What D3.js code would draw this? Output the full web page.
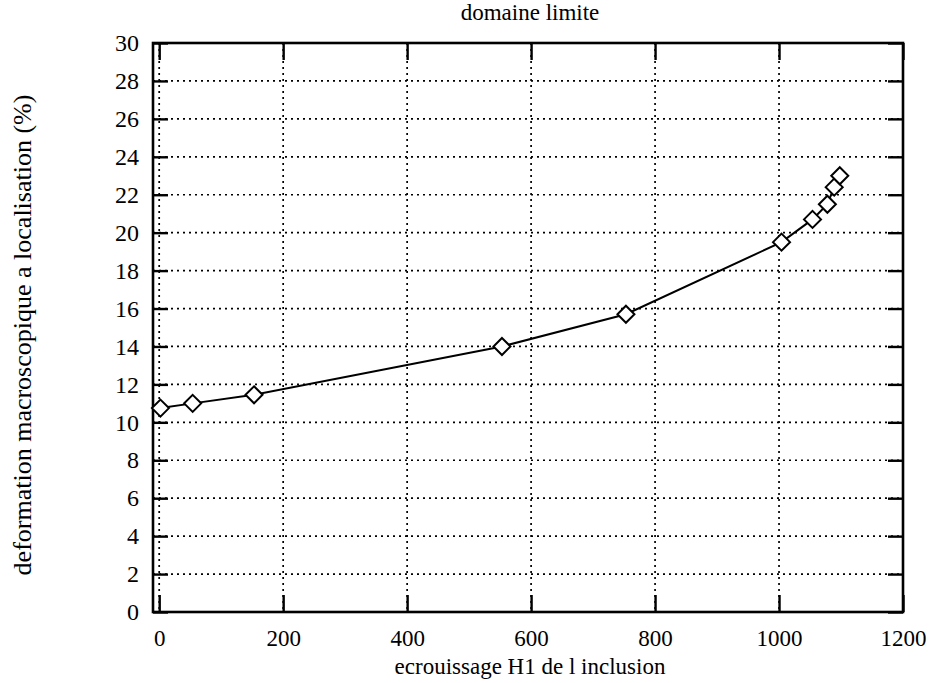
<!DOCTYPE html>
<html>
<head>
<meta charset="utf-8">
<script src="https://cdn.jsdelivr.net/npm/d3@7"></script>
<style>
  html, body { margin: 0; padding: 0; background: #fff; }
  svg { display: block; font-family: "Liberation Serif", "DejaVu Serif", serif; }
</style>
</head>
<body>
<div id="chart"></div>
<script>
// data
const hardening = [2, 54, 153, 553, 753, 1004, 1054, 1078, 1089, 1098];
const strainAtLocalisation = [10.75, 11.0, 11.45, 14.0, 15.7, 19.5, 20.7, 21.5, 22.4, 23.0];
const xTicks = [0, 200, 400, 600, 800, 1000, 1200];
const yTicks = [0, 2, 4, 6, 8, 10, 12, 14, 16, 18, 20, 22, 24, 26, 28, 30];

const titleText = "domaine limite";
const xLabel = "ecrouissage H1 de l inclusion";
const yLabel = "deformation macroscopique a localisation (%)";

const width = 934, height = 683;
const margin = {top: 43, right: 31, bottom: 71, left: 153};
const innerW = width - margin.left - margin.right;
const innerH = height - margin.top - margin.bottom;

const svg = d3.select('#chart').append('svg')
    .attr('width', width)
    .attr('height', height);

const g = svg.append('g')
    .attr('transform', `translate(${margin.left},${margin.top})`);

const x = d3.scaleLinear().domain([-10, 1200]).range([0, innerW]);
const y = d3.scaleLinear().domain([0, 30]).range([innerH, 0]);

// dotted grid
g.append('g').selectAll('line')
    .data(xTicks.filter(d => d < 1200))
    .join('line')
    .attr('x1', d => x(d)).attr('x2', d => x(d))
    .attr('y1', 0).attr('y2', innerH)
    .attr('stroke', '#000')
    .attr('stroke-width', 1.7)
    .attr('stroke-dasharray', '2,4');

g.append('g').selectAll('line')
    .data(yTicks.filter(d => d > 0 && d < 30))
    .join('line')
    .attr('x1', 0).attr('x2', innerW)
    .attr('y1', d => y(d)).attr('y2', d => y(d))
    .attr('stroke', '#000')
    .attr('stroke-width', 1.7)
    .attr('stroke-dasharray', '2,4');

// axes with inward ticks
const axisStyle = (sel, size) => {
    sel.select('.domain').remove();
    sel.selectAll('.tick line').attr('stroke', '#000').attr('stroke-width', 2.4);
    sel.selectAll('.tick text')
        .attr('fill', '#000')
        .style('font-size', size + 'px')
        .style('font-family', '"Liberation Serif", serif');
};

g.append('g')
    .attr('transform', `translate(0,${innerH})`)
    .call(d3.axisBottom(x).tickValues(xTicks).tickFormat(d3.format('d'))
        .tickSizeInner(-17).tickSizeOuter(0).tickPadding(18))
    .call(axisStyle, 23);

g.append('g')
    .call(d3.axisTop(x).tickValues(xTicks).tickFormat('')
        .tickSizeInner(-17).tickSizeOuter(0))
    .call(axisStyle, 23);

g.append('g')
    .call(d3.axisLeft(y).tickValues(yTicks).tickFormat(d3.format('d'))
        .tickSizeInner(-15).tickSizeOuter(0).tickPadding(14))
    .call(axisStyle, 24);

g.append('g')
    .attr('transform', `translate(${innerW},0)`)
    .call(d3.axisRight(y).tickValues(yTicks).tickFormat('')
        .tickSizeInner(-15).tickSizeOuter(0))
    .call(axisStyle, 24);

// frame
g.append('rect')
    .attr('x', 0).attr('y', 0)
    .attr('width', innerW).attr('height', innerH)
    .attr('fill', 'none')
    .attr('stroke', '#000')
    .attr('stroke-width', 2.6);

// curve
const pts = hardening.map((h, i) => [h, strainAtLocalisation[i]]);
g.append('path')
    .datum(pts)
    .attr('fill', 'none')
    .attr('stroke', '#000')
    .attr('stroke-width', 2)
    .attr('d', d3.line().x(d => x(d[0])).y(d => y(d[1])));

// diamond markers
g.append('g').selectAll('path')
    .data(pts)
    .join('path')
    .attr('transform', d => `translate(${x(d[0])},${y(d[1])})`)
    .attr('d', 'M0,-8.5L8.5,0L0,8.5L-8.5,0Z')
    .attr('fill', '#fff')
    .attr('stroke', '#000')
    .attr('stroke-width', 2);

// texts
svg.append('text')
    .attr('x', margin.left + innerW / 2 + 2)
    .attr('y', 20)
    .attr('text-anchor', 'middle')
    .style('font-size', '23px')
    .text(titleText);

svg.append('text')
    .attr('x', margin.left + innerW / 2 + 2)
    .attr('y', 674)
    .attr('text-anchor', 'middle')
    .style('font-size', '23px')
    .text(xLabel);

svg.append('text')
    .attr('transform', `translate(31,335) rotate(-90)`)
    .attr('text-anchor', 'middle')
    .style('font-size', '26px')
    .text(yLabel);
</script>
</body>
</html>
